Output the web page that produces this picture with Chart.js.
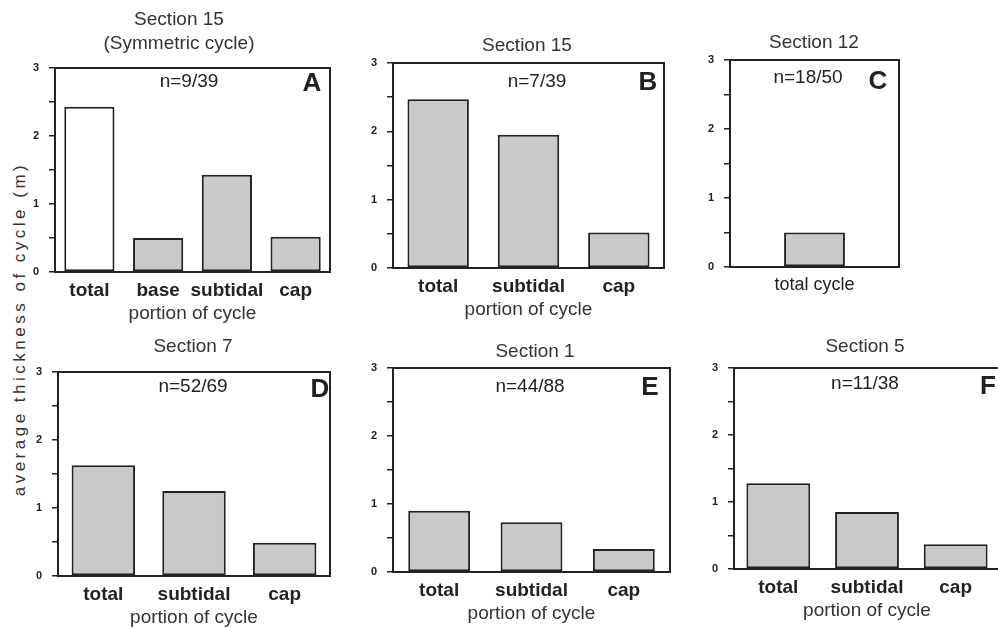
<!DOCTYPE html>
<html>
<head>
<meta charset="utf-8">
<script src="https://cdn.jsdelivr.net/npm/chart.js@4/dist/chart.umd.min.js"></script>
<style>
  html, body { margin: 0; padding: 0; background: #fff; width: 998px; height: 628px; overflow: hidden; }
  #wrap { position: relative; width: 998px; height: 628px; }
  canvas { position: absolute; }
  #ylab { position: absolute; left: 20px; top: 329px; transform: translate(-50%, -50%) rotate(-90deg);
          white-space: nowrap; font-family: "Liberation Sans", Arial, sans-serif; font-size: 17px;
          letter-spacing: 3.5px; color: #333; }
</style>
</head>
<body>
<div id="wrap">
  <div id="ylab">average thickness of cycle (m)</div>
</div>
<script>
// ---- data ----
const catsA = ['total', 'base', 'subtidal', 'cap'];
const valsA = [2.43, 0.50, 1.43, 0.52];
const catsB = ['total', 'subtidal', 'cap'];
const valsB = [2.47, 1.95, 0.52];
const catsC = ['total cycle'];
const valsC = [0.50];
const catsD = ['total', 'subtidal', 'cap'];
const valsD = [1.63, 1.25, 0.49];
const catsE = ['total', 'subtidal', 'cap'];
const valsE = [0.90, 0.73, 0.34];
const catsF = ['total', 'subtidal', 'cap'];
const valsF = [1.28, 0.85, 0.37];
const titles = [['Section 15', '(Symmetric cycle)'], ['Section 15'], ['Section 12'], ['Section 7'], ['Section 1'], ['Section 5']];
const counts = ['n=9/39', 'n=7/39', 'n=18/50', 'n=52/69', 'n=44/88', 'n=11/38'];
const letters = ['A', 'B', 'C', 'D', 'E', 'F'];
const yTickLabels = ['0', '1', '2', '3'];

// ---- layout / style ----
const FONT = '"Liberation Sans", Arial, sans-serif';
const GRAY = '#c9c9c9';
const INK = '#222';
const YW = 45;
const XH = 53;
const panels = [
  { cats: catsA, vals: valsA, frame: [55, 68, 330, 272], top: 0, titleXY: [179, 20], nXY: [189, 82], letXY: [312, 84], bp: 0.73, hollow: [0], axisTitle: true, boldTicks: true },
  { cats: catsB, vals: valsB, frame: [393, 63, 664, 268], top: 0, titleXY: [527, 46], nXY: [537, 82], letXY: [648, 83], bp: 0.68, hollow: [], axisTitle: true, boldTicks: true },
  { cats: catsC, vals: valsC, frame: [730, 60, 899, 267], top: 0, titleXY: [814, 43], nXY: [808, 78], letXY: [878, 82], bp: 0.36, hollow: [], axisTitle: false, boldTicks: false },
  { cats: catsD, vals: valsD, frame: [58, 372, 330, 576], top: 320, titleXY: [193, 347], nXY: [193, 387], letXY: [320, 390], bp: 0.7, hollow: [], axisTitle: true, boldTicks: true },
  { cats: catsE, vals: valsE, frame: [393, 368, 670, 572], top: 320, titleXY: [535, 352], nXY: [530, 387], letXY: [650, 388], bp: 0.67, hollow: [], axisTitle: true, boldTicks: true },
  { cats: catsF, vals: valsF, frame: [734, 368, 1000, 569], top: 320, titleXY: [865, 347], nXY: [865, 384], letXY: [988, 387], bp: 0.72, hollow: [], axisTitle: true, boldTicks: true },
];

const wrap = document.getElementById('wrap');

panels.forEach((p, i) => {
  const [fl, ft, fr, fb] = p.frame;
  const cLeft = fl - YW;
  const cTop = p.top;
  const cW = fr + 4 - cLeft;
  const cH = fb + XH - cTop;
  const cv = document.createElement('canvas');
  cv.width = cW; cv.height = cH;
  cv.style.left = cLeft + 'px'; cv.style.top = cTop + 'px';
  cv.style.width = cW + 'px'; cv.style.height = cH + 'px';
  wrap.appendChild(cv);

  const annot = {
    id: 'annot' + i,
    afterDatasetsDraw(chart) {
      const ctx = chart.ctx;
      const a = chart.chartArea;
      ctx.save();
      ctx.strokeStyle = INK;
      ctx.lineWidth = 2;
      ctx.strokeRect(a.left, a.top, a.right - a.left, a.bottom - a.top);
      ctx.fillStyle = '#333';
      ctx.textAlign = 'center';
      ctx.textBaseline = 'middle';
      ctx.font = '19px ' + FONT;
      titles[i].forEach((t, k) => {
        ctx.fillText(t, p.titleXY[0] - cLeft, p.titleXY[1] - cTop + k * 24);
      });
      ctx.font = '19px ' + FONT;
      ctx.fillStyle = '#222';
      ctx.fillText(counts[i], p.nXY[0] - cLeft, p.nXY[1] - cTop);
      ctx.font = 'bold 26px ' + FONT;
      ctx.fillText(letters[i], p.letXY[0] - cLeft, p.letXY[1] - cTop);
      ctx.restore();
    }
  };

  new Chart(cv, {
    type: 'bar',
    data: {
      labels: p.cats,
      datasets: [{
        data: p.vals,
        backgroundColor: (c) => p.hollow.includes(c.dataIndex) ? '#ffffff' : GRAY,
        borderColor: INK,
        borderWidth: 2,
        borderSkipped: false,
        categoryPercentage: 1,
        barPercentage: p.bp
      }]
    },
    options: {
      responsive: false,
      animation: false,
      devicePixelRatio: 1,
      layout: { padding: { top: ft - cTop, left: 0, right: 4, bottom: 0 } },
      plugins: { legend: { display: false }, tooltip: { enabled: false }, title: { display: false } },
      scales: {
        x: {
          grid: { display: false, drawTicks: false },
          border: { display: false },
          ticks: { color: '#222', padding: 7, maxRotation: 0, minRotation: 0, autoSkip: false,
                   font: { family: FONT, size: p.boldTicks ? 19 : 18, weight: p.boldTicks ? 'bold' : 'normal' } },
          title: { display: p.axisTitle, text: 'portion of cycle', color: '#333', padding: 0, font: { family: FONT, size: 19 } },
          afterFit: (s) => { s.height = XH; }
        },
        y: {
          min: 0, max: 3,
          border: { display: false },
          grid: { drawOnChartArea: false, tickLength: 6, tickColor: INK, lineWidth: 1.5 },
          ticks: {
            stepSize: 0.5, padding: 10, color: '#222',
            font: { family: FONT, size: 11, weight: 'bold' },
            callback: (v) => Number.isInteger(v) ? yTickLabels[v] : ''
          },
          afterFit: (s) => { s.width = YW; }
        }
      }
    },
    plugins: [annot]
  });
});
</script>
</body>
</html>
